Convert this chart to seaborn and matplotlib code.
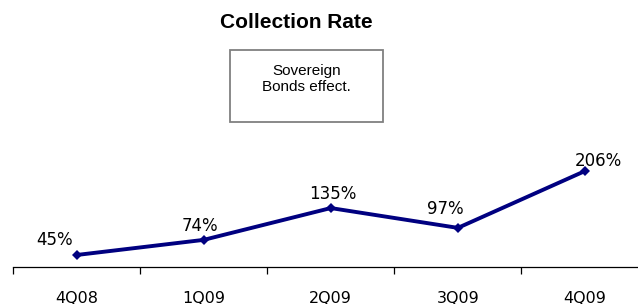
import matplotlib
matplotlib.use("Agg")
import matplotlib.pyplot as plt
import seaborn as sns
import pandas as pd
from matplotlib.patches import Rectangle
from matplotlib.ticker import FixedLocator

# Chart data
quarters = ["4Q08", "1Q09", "2Q09", "3Q09", "4Q09"]
rates = [45, 74, 135, 97, 206]
labels = ["45%", "74%", "135%", "97%", "206%"]
# label offsets (pixels) relative to each point
label_dx = [-22, -4, 2, -13, 13]
label_dy = [15, 14, 14, 19, 10]

df = pd.DataFrame({"Quarter": quarters, "Rate": rates})

sns.set_style("white")
plt.rcParams["font.family"] = ["DejaVu Sans"]
plt.rcParams["text.color"] = "black"
plt.rcParams["xtick.color"] = "black"

W, H = 638, 304
fig = plt.figure(figsize=(W / 100, H / 100), dpi=100)
ax_left, ax_bottom, ax_top = 13, 267, 110
ax = fig.add_axes([ax_left / W, 1 - ax_bottom / H, (W - ax_left) / W, (ax_bottom - ax_top) / H])

sns.lineplot(data=df, x="Quarter", y="Rate", marker="D", color="#000080",
             linewidth=2.8, markersize=5, markeredgewidth=0, ax=ax)

ax.set_xlim(-0.5, 4.417)
ax.set_ylim(22, 323)

for i, (v, lab) in enumerate(zip(rates, labels)):
    ax.annotate(lab, (i, v), xytext=(label_dx[i], label_dy[i]), textcoords="offset pixels",
                ha="center", va="center", fontsize=12, color="black")

for s in ["left", "right", "top"]:
    ax.spines[s].set_visible(False)
ax.spines["bottom"].set_color("black")
ax.spines["bottom"].set_linewidth(0.9)

ax.set_yticks([])
ax.set_xlabel("")
ax.set_ylabel("")
ax.set_xticks(range(len(quarters)))
ax.set_xticklabels(quarters, fontsize=11.5, color="black")
ax.xaxis.set_minor_locator(FixedLocator([-0.5, 0.5, 1.5, 2.5, 3.5]))
ax.tick_params(axis="x", which="major", length=0, pad=17)
ax.tick_params(axis="x", which="minor", length=5, width=0.9, color="black", direction="out", bottom=True)

fig.text(296 / W, 1 - 22 / H, "Collection Rate", ha="center", va="center",
         fontsize=15, fontweight="bold", family="Liberation Sans", color="black")

box_x0, box_y0, box_x1, box_y1 = 230, 50, 383, 122
fig.patches.append(Rectangle((box_x0 / W, 1 - box_y1 / H), (box_x1 - box_x0) / W, (box_y1 - box_y0) / H,
                             transform=fig.transFigure, fill=False, edgecolor="#808080", linewidth=1.3))
fig.text(306.5 / W, 1 - 79 / H, "Sovereign\nBonds effect.", ha="center", va="center",
         fontsize=11, family="Liberation Sans", linespacing=1.15, color="black")

fig.savefig("out.png", dpi=100)
